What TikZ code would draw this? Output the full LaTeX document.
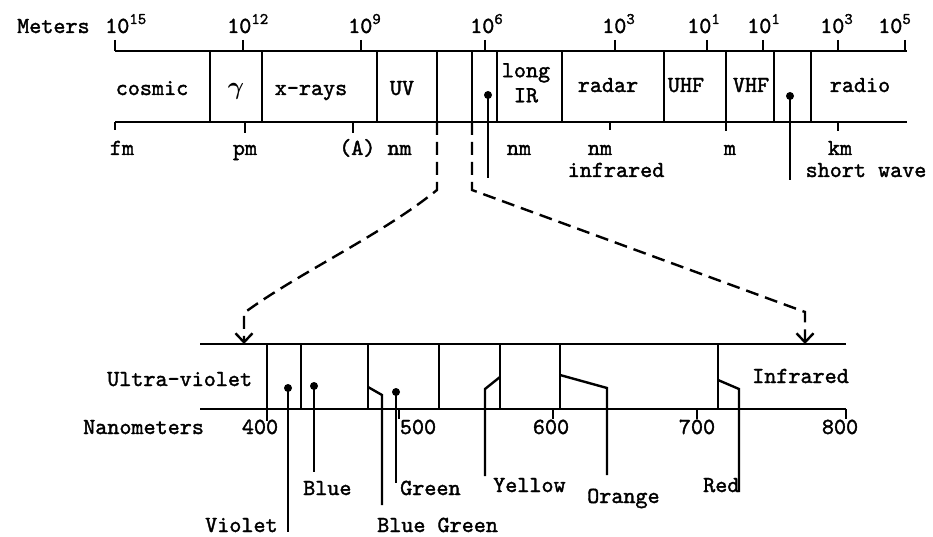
\documentclass[tikz,border=0pt]{standalone}
\usepackage{amsmath}
\usepackage{fontspec}
\setmonofont{lmmono10-regular.otf}[BoldFont=lmmono10-regular.otf, BoldFeatures={FakeBold=1.6}]
\usepackage{tikz}
\usetikzlibrary{arrows.meta, positioning}

\begin{document}
\begin{tikzpicture}[x=1pt, y=-1pt,
    every node/.style={font=\fontsize{23}{25}\selectfont\ttfamily\bfseries, inner sep=0pt},
    lbl/.style={anchor=base},
    band/.style={line width=2.6pt},
    tick/.style={line width=2.4pt},
    leader/.style={line width=2.4pt},
    pin/.style={circle, fill, minimum size=8pt},
    zoomline/.style={line width=2.4pt, dash pattern=on 13pt off 7pt,
      -{Straight Barb[length=9pt, width=17pt, line width=2.4pt]}}
  ]
  \useasboundingbox (0,0) rectangle (933,537);

  % upper scale: whole spectrum
  \coordinate (sp-tl) at (115,51);  \coordinate (sp-tr) at (907,51);
  \coordinate (sp-bl) at (115,122); \coordinate (sp-br) at (907,122);
  \draw[band] (sp-tl) -- (sp-tr);
  \draw[band] (sp-bl) -- (sp-br);
  \foreach \x in {210,262,377,437,472,497,562,664,774,811}
    \draw[band] (\x,51) -- (\x,122);
  \draw[band] (726,51) -- (726,131);

  \node[lbl, anchor=base west] (meters) at (17,33) {Meters};
  \foreach \t/\s/\e in {115/105/15, 243/227/12, 361/348/9, 485/470/6, 615/602/3,
                        707/687/1, 763/747/1, 838/820/3, 905/878/5} {
    \draw[tick] (\t,40) -- (\t,51);
    \node[anchor=base west] (pow\t) at (\s,33) {10\textsuperscript{\e}};
  }
  \foreach \t/\b in {115/130, 245/133, 353/133, 610/130, 838/131}
    \draw[tick] (\t,122) -- (\t,\b);

  \node[lbl] (cosmic) at (152,95) {cosmic};
  \node[lbl] (gamma) at (236,95) {$\boldsymbol{\gamma}$};
  \node[lbl] (xrays) at (311,95) {x-rays};
  \node[lbl] (uv) at (402,95) {UV};
  \node[anchor=north, align=center] (longir) at (526,63) {long\\IR};
  \node[lbl] (radar) at (608,92) {radar};
  \node[lbl] (uhf) at (686,92) {UHF};
  \node[lbl] (vhf) at (751,92) {VHF};
  \node[lbl] (radio) at (860,92) {radio};

  \node[lbl] (fm) at (122,155) {fm};
  \node[lbl] (pm) at (245,155) {pm};
  \node[lbl, anchor=base west] (ang) at (339,155) {(A) nm};
  \node[lbl] (nm1) at (519,155) {nm};
  \node[lbl] (nm2) at (600,155) {nm};
  \node[lbl] (infra) at (616,177) {infrared};
  \node[lbl] (m) at (730,155) {m};
  \node[lbl] (km) at (840,155) {km};
  \node[lbl] (short) at (866,177) {short wave};

  % lower scale: visible light
  \coordinate (vis-tl) at (200,344); \coordinate (vis-tr) at (846,344);
  \coordinate (vis-bl) at (200,409); \coordinate (vis-br) at (846,409);
  \draw[band] (vis-tl) -- (vis-tr);
  \draw[band] (vis-bl) -- (vis-br);
  \foreach \x in {301,368,439,500,560,718}
    \draw[band] (\x,344) -- (\x,409);
  \draw[band] (267,344) -- (267,421);
  \foreach \t in {399,553,697,846}
    \draw[tick] (\t,409) -- (\t,419);

  \node[lbl, anchor=base west] (uviol) at (107,386) {Ultra-violet};
  \node[lbl, anchor=base west] (infrared) at (752,383) {Infrared};
  \node[lbl, anchor=base west] (nanom) at (83,434) {Nanometers};
  \foreach \x/\v in {260/400, 418/500, 551/600, 697/700, 840/800}
    \node[lbl] (nm\v) at (\x,434) {\v};

  % zoom from the upper scale to the lower one
  \coordinate (zl0) at (437,122); \coordinate (zl1) at (437,190);
  \coordinate (zl2) at (244,313); \coordinate (zl3) at (244,344);
  \coordinate (zr0) at (472,122); \coordinate (zr1) at (472,190);
  \coordinate (zr2) at (805,312); \coordinate (zr3) at (805,344);
  \draw[zoomline] (zl0) -- (zl1) .. controls (380,236) and (300,272) .. (zl2) -- (zl3);
  \draw[zoomline] (zr0) -- (zr1) -- (zr2) -- (zr3);

  % pins
  \foreach \n/\x/\y/\ye in {ir/488/95/178, sw/790/96/180, vi/288/388/532,
                            bl/314/386/472, gr/396/392/483} {
    \node[pin] (\n-pin) at (\x,\y) {};
    \coordinate (\n-end) at (\x,\ye);
    \draw[leader] (\n-pin.center) -- (\n-end);
  }
  \foreach \n/\xa/\ya/\xb/\yb/\ye in {bg/368/387/382/395/505, ye/500/377/485/389/476,
                                      or/560/375/607/388/475, rd/718/380/739/389/492} {
    \coordinate (\n-a) at (\xa,\ya);
    \coordinate (\n-b) at (\xb,\yb);
    \coordinate (\n-e) at (\xb,\ye);
    \draw[leader] (\n-a) -- (\n-b) -- (\n-e);
  }

  \node[lbl, anchor=base west] (violet) at (205,532) {Violet};
  \node[lbl, anchor=base west] (blue) at (303,495) {Blue};
  \node[lbl, anchor=base west] (green) at (400,495) {Green};
  \node[lbl, anchor=base west] (bluegreen) at (377,532) {Blue Green};
  \node[lbl, anchor=base west] (yellow) at (493,492) {Yellow};
  \node[lbl, anchor=base west] (orange) at (587,503) {Orange};
  \node[lbl, anchor=base west] (red) at (703,492) {Red};
\end{tikzpicture}
\end{document}
